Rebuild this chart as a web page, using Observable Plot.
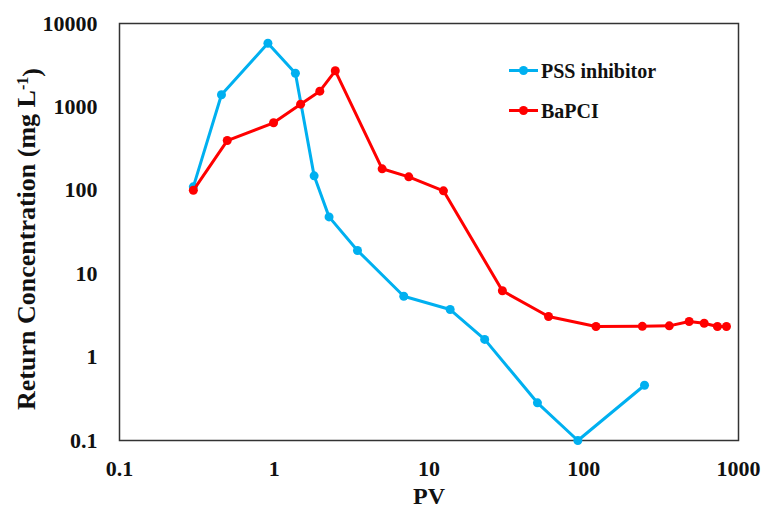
<!DOCTYPE html>
<html><head><meta charset="utf-8">
<script src="https://cdn.jsdelivr.net/npm/d3@7"></script>
<script src="https://cdn.jsdelivr.net/npm/@observablehq/plot@0.6"></script>
<style>body{margin:0;background:#fff;}</style>
</head><body><div id="chart"></div>
<script>
const pssPV   = [0.3, 0.456, 0.91, 1.37, 1.81, 2.26, 3.45, 6.87, 13.7, 22.9, 50.2, 91.6, 247];
const pssConc = [110, 1400, 5800, 2530, 149, 48, 19, 5.37, 3.72, 1.63, 0.283, 0.1, 0.46];
const bapPV   = [0.3, 0.497, 0.99, 1.48, 1.97, 2.48, 4.98, 7.4, 12.4, 29.8, 59.2, 120, 239, 357, 480, 600, 731, 836];
const bapConc = [100, 395, 645, 1078, 1544, 2710, 181, 145, 98.6, 6.24, 3.07, 2.33, 2.34, 2.37, 2.67, 2.55, 2.33, 2.33];
const xTicks = [0.1, 1, 10, 100, 1000];
const yTicks = [0.1, 1, 10, 100, 1000, 10000];
const seriesNames = ["PSS inhibitor", "BaPCI"];
const seriesColors = ["#00B0F0", "#FF0000"];

const pss = pssPV.map((x, i) => ({x, y: pssConc[i]}));
const bap = bapPV.map((x, i) => ({x, y: bapConc[i]}));

const font = "'Liberation Serif', 'Times New Roman', serif";
const chart = Plot.plot({
  width: 763, height: 509,
  marginLeft: 119, marginTop: 23, marginRight: 25, marginBottom: 69,
  style: {fontFamily: font, fontSize: "22px", fontWeight: "bold", color: "#111", background: "#fff"},
  x: {type: "log", domain: [0.1, 1000]},
  y: {type: "log", domain: [0.1, 10000]},
  marks: [
    Plot.axisX({ticks: xTicks, tickSize: 0, tickPadding: 20, fontSize: 22, tickFormat: d => String(d), label: null}),
    Plot.axisY({ticks: yTicks, tickSize: 0, tickPadding: 22, fontSize: 22, tickFormat: d => String(d), label: null}),
    Plot.frame({stroke: "#333", strokeWidth: 1.5}),
    Plot.line(pss, {x: "x", y: "y", stroke: seriesColors[0], strokeWidth: 3}),
    Plot.dot(pss, {x: "x", y: "y", fill: seriesColors[0], r: 4.5}),
    Plot.line(bap, {x: "x", y: "y", stroke: seriesColors[1], strokeWidth: 3}),
    Plot.dot(bap, {x: "x", y: "y", fill: seriesColors[1], r: 4.5})
  ]
});
document.getElementById("chart").appendChild(chart);

const svg = d3.select(chart);
// axis titles
svg.append("text").attr("x", 429).attr("y", 504).attr("text-anchor", "middle")
  .style("font-family", font).style("font-weight", "bold").style("font-size", "24px").attr("fill", "#111")
  .text("PV");
const yt = svg.append("text").attr("transform", "translate(35,239) rotate(-90)").attr("text-anchor", "middle")
  .style("font-family", font).style("font-weight", "bold").style("font-size", "26px").attr("fill", "#111");
yt.append("tspan").text("Return Concentration (mg L");
yt.append("tspan").attr("dy", "-0.45em").style("font-size", "16px").text("-1");
yt.append("tspan").attr("dy", "0.45em").text(")");
// legend
seriesNames.forEach((name, i) => {
  const gy = 70.5 + i * 40;
  const g = svg.append("g");
  g.append("line").attr("x1", 509).attr("x2", 538).attr("y1", gy).attr("y2", gy)
    .attr("stroke", seriesColors[i]).attr("stroke-width", 3);
  g.append("circle").attr("cx", 523.5).attr("cy", gy).attr("r", 4.5).attr("fill", seriesColors[i]);
  g.append("text").attr("x", 541).attr("y", gy).attr("dy", "0.35em").attr("text-anchor", "start")
    .style("font-family", font).style("font-weight", "bold").style("font-size", "20px").attr("fill", "#111")
    .text(name);
});
</script></body></html>
